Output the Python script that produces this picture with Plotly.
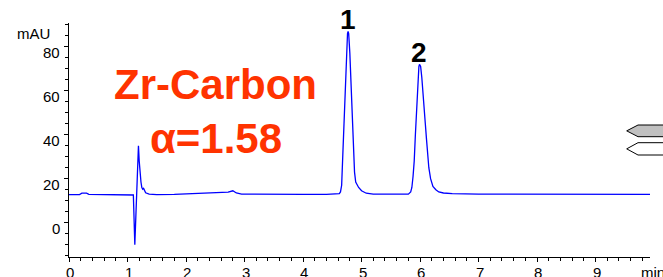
import plotly.graph_objects as go

# ---- data ----
time_min = [0.00, 0.18, 0.22, 0.30, 0.34, 0.60, 0.90, 1.08, 1.10, 1.125, 1.15, 1.17, 1.187,
            1.20, 1.215, 1.23, 1.245, 1.26, 1.275, 1.29, 1.31, 1.37, 1.50, 1.80, 2.00, 2.20,
            2.40, 2.60, 2.72, 2.80, 2.86, 2.95, 3.20, 3.60, 4.00, 4.40, 4.60, 4.62, 4.64, 4.65,
            4.66, 4.68, 4.70, 4.72, 4.74, 4.76, 4.77, 4.78, 4.80, 4.82, 4.84, 4.86, 4.88, 4.90,
            4.92, 4.95, 5.00, 5.08, 5.20, 5.50, 5.80, 5.84, 5.86, 5.88, 5.90, 5.92, 5.94, 5.96,
            5.98, 5.99, 6.01, 6.03, 6.05, 6.07, 6.09, 6.11, 6.13, 6.15, 6.18, 6.22, 6.27, 6.32,
            6.40, 6.55, 7.00, 8.00, 9.00, 9.93]
signal_mau = [12.8, 12.8, 13.4, 13.4, 12.9, 12.8, 12.8, 12.8, 12.6, -10.0, 10.0, 30.0, 35.0,
              28.0, 22.0, 18.5, 16.0, 15.2, 15.6, 14.3, 13.6, 13.0, 12.8, 12.9, 13.1, 13.3,
              13.6, 13.7, 13.9, 14.5, 13.5, 13.0, 12.9, 12.9, 12.9, 12.9, 12.9, 13.2, 14.0, 15.0,
              17.0, 31.0, 45.0, 62.0, 77.0, 86.0, 87.0, 86.0, 77.0, 62.0, 46.0, 32.0, 23.0, 18.5,
              17.5, 16.0, 14.5, 13.4, 13.0, 12.9, 13.0, 14.0, 16.0, 21.0, 28.0, 40.0, 53.0, 65.0,
              71.0, 72.0, 71.0, 66.0, 60.0, 51.0, 45.0, 38.0, 31.0, 25.0, 20.0, 16.5, 15.0, 14.0,
              13.5, 13.2, 13.0, 12.9, 12.9, 12.9]

peak_labels = ["1", "2"]
peak_times = [4.77, 5.99]
peak_heights = [87.0, 72.0]

x_ticks = [0, 1, 2, 3, 4, 5, 6, 7, 8, 9]
y_ticks = [0, 20, 40, 60, 80]

title_line1 = "Zr-Carbon"
title_line2 = "α=1.58"

FONT = "Liberation Sans, Arial, sans-serif"
ORANGE = "#ff3300"

W, H = 663, 277
# plot area in window pixels: x 69..650, y 23..257
L, R, T, B = 69, W - 650, 23, H - 257
PW, PH = W - L - R, H - T - B


def px_x(wx):
    return (wx - L) / PW


def px_y(wy):
    return (H - B - wy) / PH


fig = go.Figure()
fig.add_trace(go.Scatter(x=time_min, y=signal_mau, mode="lines",
                         line=dict(color="#0000ff", width=1.3), hoverinfo="skip"))

fig.update_layout(
    width=W, height=H,
    margin=dict(l=L, r=R, t=T, b=B, autoexpand=False),
    paper_bgcolor="white", plot_bgcolor="white",
    showlegend=False,
    font=dict(family=FONT, size=15, color="black"),
    xaxis=dict(range=[0, 9.93], tickvals=x_ticks, showgrid=False, zeroline=False,
               showline=True, linecolor="black", linewidth=1, automargin=False,
               ticks="outside", ticklen=4, tickcolor="black", showticklabels=False,
               minor=dict(dtick=0.2, ticks="outside", ticklen=3, tickcolor="black")),
    yaxis=dict(range=[-15.6, 90.8], tickvals=y_ticks, showgrid=False, zeroline=False,
               showline=True, linecolor="black", linewidth=1, automargin=False,
               ticks="outside", ticklen=4, tickcolor="black", showticklabels=False,
               minor=dict(dtick=5, ticks="outside", ticklen=3, tickcolor="black")),
)

# y tick labels (sit just below their ticks, as in the original)
for v in y_ticks:
    fig.add_annotation(text=str(v), xref="paper", yref="y", x=0, y=v,
                       xanchor="right", yanchor="middle", showarrow=False,
                       xshift=-7, yshift=-6, font=dict(size=15))

# x tick labels
for v in x_ticks:
    fig.add_annotation(text=str(v), xref="x", yref="paper", x=v, y=0,
                       xanchor="center", yanchor="top", showarrow=False,
                       xshift=1, yshift=-6, borderpad=0, font=dict(size=15))

# axis unit labels
fig.add_annotation(text="mAU", xref="paper", yref="paper", x=px_x(52), y=1.0,
                   xanchor="right", yanchor="middle", showarrow=False, yshift=-10,
                   font=dict(size=15))
fig.add_annotation(text="min", xref="paper", yref="paper", x=px_x(640), y=0,
                   xanchor="left", yanchor="top", showarrow=False, yshift=-6,
                   borderpad=0, font=dict(size=15))

# title text
fig.add_annotation(text=f"<b>{title_line1}</b>", xref="paper", yref="paper",
                   x=px_x(215), y=px_y(84), xanchor="center", yanchor="middle",
                   showarrow=False, font=dict(size=42, color=ORANGE))
fig.add_annotation(text=f"<b>{title_line2}</b>", xref="paper", yref="paper",
                   x=px_x(216), y=px_y(138), xanchor="center", yanchor="middle",
                   showarrow=False, font=dict(size=42, color=ORANGE))

# peak labels
for lab, t, h in zip(peak_labels, peak_times, peak_heights):
    fig.add_annotation(text=f"<b>{lab}</b>", x=t, y=h, xref="x", yref="y",
                       xanchor="center", yanchor="bottom", showarrow=False, yshift=-6,
                       font=dict(size=28, color="black"))


# marker arrows on the right edge
def arrow(y_top, y_bot, fill):
    x_tip, x_sh, x_end = px_x(626.7), px_x(638), px_x(670)
    yt, yb = px_y(y_top), px_y(y_bot)
    ym = (yt + yb) / 2
    path = f"M {x_tip} {ym} L {x_sh} {yt} L {x_end} {yt} L {x_end} {yb} L {x_sh} {yb} Z"
    fig.add_shape(type="path", path=path, xref="paper", yref="paper",
                  fillcolor=fill, line=dict(color="black", width=1), layer="above")


arrow(125, 136.7, "#c0c0c0")
arrow(142.7, 155, "white")

fig.write_html(
    "out.html",
    config={"displayModeBar": False, "staticPlot": True},
    post_script="document.body.style.margin='0';document.body.style.overflow='hidden';",
)
